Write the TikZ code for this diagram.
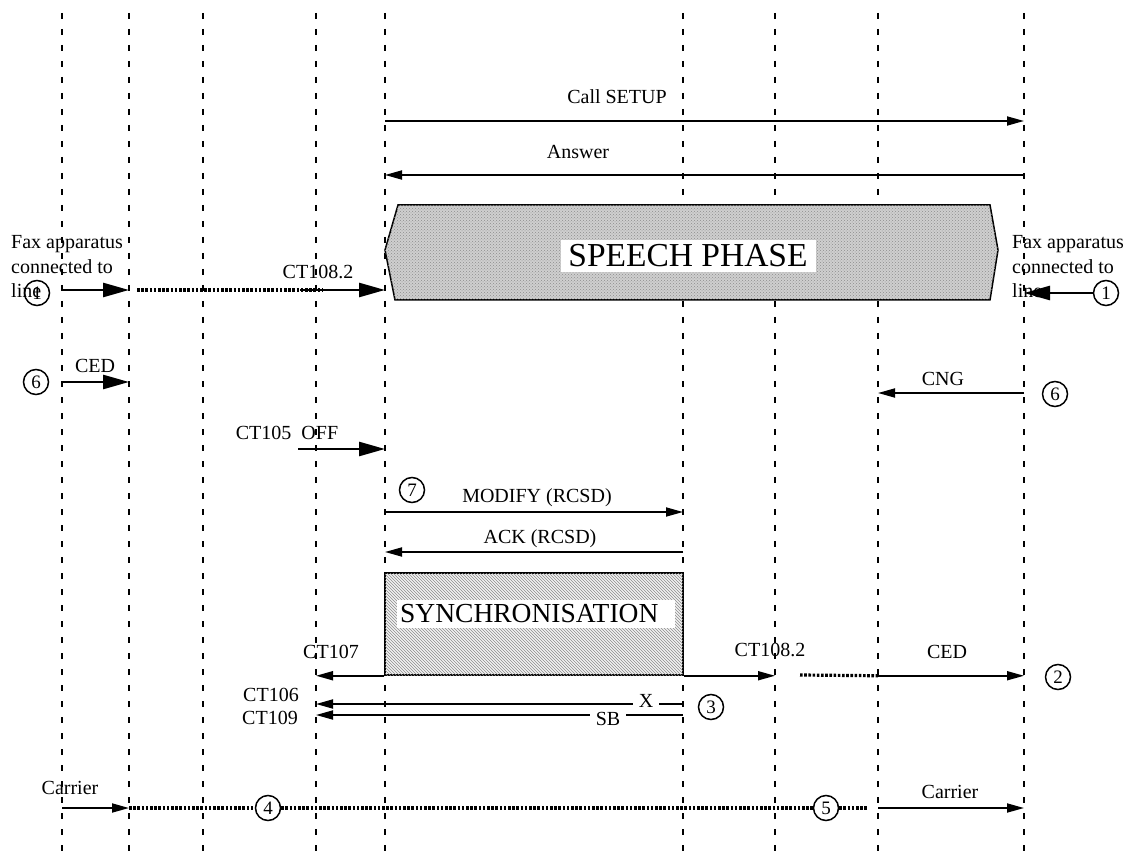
\documentclass[tikz,border=0pt]{standalone}
\usepackage{fontspec}
\setmainfont{Liberation Serif}
\usetikzlibrary{arrows.meta,patterns}

\tikzset{
  lifeline/.style={line width=2pt, dash pattern=on 6pt off 10pt},
  msg/.style={line width=1.8pt, -{Triangle[length=17pt,width=9pt]}},
  bigmsg/.style={line width=2.6pt, -{Triangle[length=26pt,width=14pt]}},
  dotline/.style={line width=3.2pt, dash pattern=on 2.6pt off 1.6pt},
  lbl/.style={font=\fontsize{20}{24}\selectfont, inner sep=1pt},
  gaplbl/.style={lbl, fill=white, inner xsep=6pt},
  num/.style={circle, draw, line width=1.5pt, minimum size=25pt, inner sep=0pt, font=\fontsize{19}{22}\selectfont},
  phase/.style={font=\fontsize{33.5}{36}\selectfont, fill=white},
}

\begin{document}
\begin{tikzpicture}[x=1pt,y=-1pt]
\useasboundingbox (0,0) rectangle (1129,858);

% lifelines
\foreach \n/\x in {1/62,2/129,3/203,4/316,5/385,6/683,7/775,8/878,9/1024} {
  \coordinate (L\n) at (\x,13);
  \draw[lifeline] (L\n) -- (\x,858);
}

% call set-up
\node[lbl] (setup) at (617,97) {Call SETUP};
\draw[msg] (L5 |- 0,121) -- (L9 |- 0,121);
\node[lbl] (answer) at (578,152) {Answer};
\draw[msg] (L9 |- 0,175) -- (L5 |- 0,175);

% speech phase
\draw[line width=1.5pt, fill=gray!38, postaction={pattern=crosshatch dots, pattern color=gray!90}]
  (398,205) -- (990,205) -- (998,250) -- (990,300) -- (395,300) -- (385,250) -- cycle;
\node[phase, minimum width=255pt, minimum height=32pt, inner ysep=0pt] (speech) at (688,256) {SPEECH PHASE};

% fax connected to line
\node[lbl, anchor=west, align=left, font=\fontsize{20}{24.5}\selectfont] (faxl) at (10,267) {Fax apparatus\\connected to\\line};
\node[num] (n1l) at (37,293) {1};
\draw[bigmsg] (L1 |- 0,290) -- (L2 |- 0,290);
\draw[dotline] (137,290) -- (323,290);
\draw[bigmsg] (300,290) -- (L5 |- 0,290);
\node[lbl] (ct108a) at (318,272) {CT108.2};

\node[lbl, anchor=west, align=left, font=\fontsize{20}{24.5}\selectfont] (faxr) at (1011,267) {Fax apparatus\\connected to\\line};
\node[num] (n1r) at (1106,293) {1};
\draw[bigmsg] (n1r.west) -- (L9 |- n1r);

% CED / CNG
\node[num] (n6l) at (36,382) {6};
\draw[bigmsg] (L1 |- n6l) -- (L2 |- n6l);
\node[lbl] (cedl) at (95,366) {CED};
\node[num] (n6r) at (1055,394) {6};
\draw[msg] (L9 |- 0,393) -- (L8 |- 0,393);
\node[lbl] (cng) at (943,379) {CNG};

% CT105
\node[lbl] (ct105) at (287,433) {CT105~~OFF};
\draw[bigmsg] (298,449) -- (L5 |- 0,449);

% modify
\node[num] (n7) at (412,490) {7};
\node[lbl] (modify) at (537,498) {MODIFY (RCSD)};
\draw[msg] (L5 |- 0,512) -- (L6 |- 0,512);
\node[lbl] (ack) at (540,539) {ACK (RCSD)};
\draw[msg] (L6 |- 0,552) -- (L5 |- 0,552);

% synchronisation
\node[draw, line width=1.5pt, minimum width=298pt, minimum height=102pt, inner sep=0pt,
  fill=gray!10, postaction={pattern=north west lines, pattern color=gray!90}] (sync) at (534,624) {};
\node[font=\fontsize{27.5}{30}\selectfont, fill=white, anchor=west, text width=272pt, align=left,
  inner xsep=3pt, minimum height=28pt, inner ysep=0pt] (synctxt) at (397,614) {SYNCHRONISATION};

\draw[msg] (sync.south west) -- (L4 |- sync.south);
\node[lbl] (ct107) at (331,652) {CT107};
\draw[msg] (sync.south east) -- (L7 |- sync.south);
\node[lbl] (ct108b) at (770,650) {CT108.2};
\draw[dotline] (800,675) -- (L8 |- sync.south);
\draw[msg] (L8 |- sync.south) -- (L9 |- sync.south);
\node[lbl] (cedr) at (947,652) {CED};
\node[num] (n2) at (1058,677) {2};

% CT106 / CT109
\draw[msg] (L6 |- 0,704) -- (L4 |- 0,704);
\node[gaplbl] (x) at (646,701) {X};
\draw[msg] (L6 |- 0,715) -- (L4 |- 0,715);
\node[gaplbl] (sb) at (608,719) {SB};
\node[lbl, anchor=east] (ct106) at (300,695) {CT106};
\node[lbl, anchor=east] (ct109) at (299,718) {CT109};
\node[num] (n3) at (711,707) {3};

% carrier
\node[lbl] (carl) at (70,788) {Carrier};
\draw[msg] (L1 |- 0,808) -- (L2 |- 0,808);
\node[num] (n4) at (268,808) {4};
\node[num] (n5) at (826,808) {5};
\draw[dotline] (L2 |- n4) -- (n4.west);
\draw[dotline] (n4.east) -- (n5.west);
\draw[dotline] (n5.east) -- (868,808);
\draw[msg] (L8 |- 0,808) -- (L9 |- 0,808);
\node[lbl] (carr) at (950,792) {Carrier};
\end{tikzpicture}
\end{document}
